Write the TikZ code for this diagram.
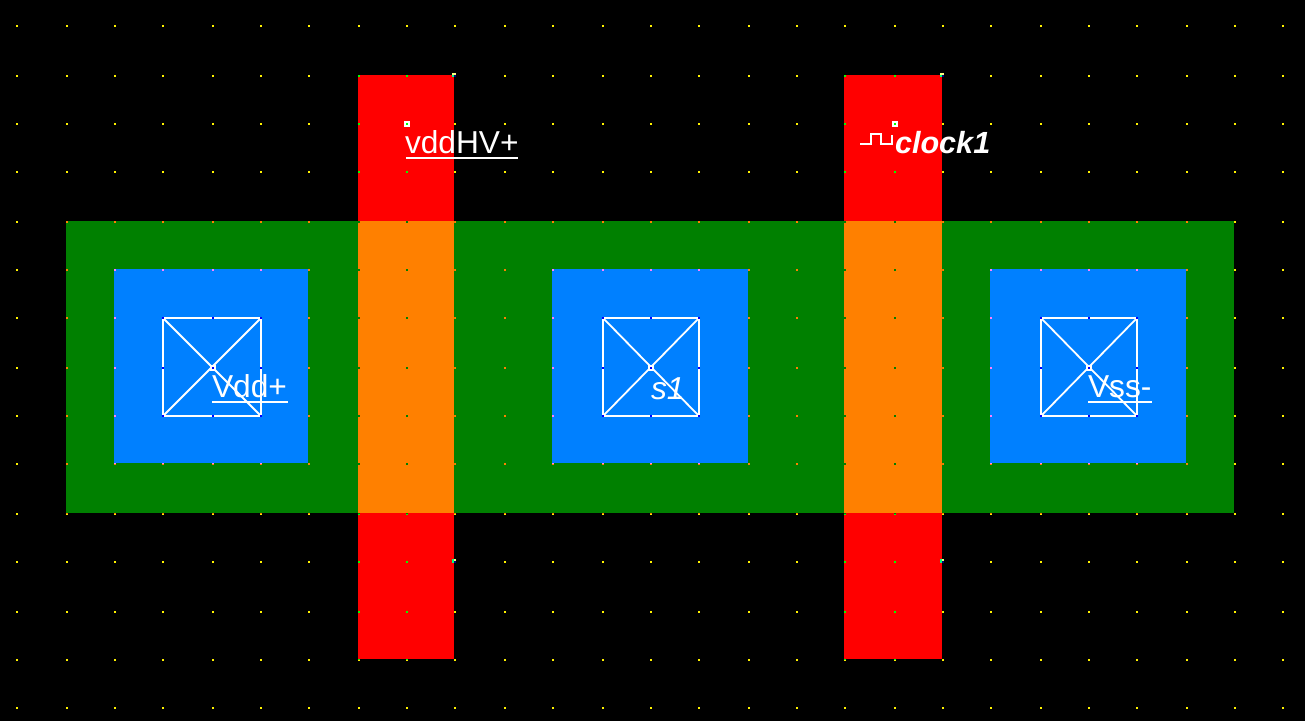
\documentclass[tikz,border=0pt]{standalone}
\usepackage{fontspec}
\setmainfont{Liberation Sans}
\definecolor{layred}{RGB}{255,0,0}
\definecolor{laygreen}{RGB}{0,128,0}
\definecolor{layorange}{RGB}{255,128,0}
\definecolor{layblue}{RGB}{0,128,255}
\definecolor{dotgreen}{RGB}{0,255,0}
\definecolor{dotpink}{RGB}{255,127,255}
\definecolor{dotdark}{RGB}{0,128,0}
\definecolor{dotcross}{RGB}{0,0,255}
\definecolor{markpale}{RGB}{255,255,128}
\definecolor{markteal}{RGB}{0,255,128}
\definecolor{marknavy}{RGB}{0,0,128}
\newcommand{\dotgrid}[1]{%
  \foreach \dx in {17,67,115,163,213,261,309,359,407,455,505,553,603,651,699,749,797,845,895,943,991,1041,1089,1137,1187,1235,1283}
    \foreach \dy in {26,76,124,172,222,270,318,368,416,464,514,562,612,660,708}
      \fill[#1] (\dx-1,\dy-1) rectangle (\dx+1,\dy+1);}
\newcommand{\contact}[3]{%
  % left x, center x, right x
  \draw[wire] (#1,318) rectangle (#3,416);
  \draw[thinwire] (#1,318) -- (#3,416);
  \draw[thinwire] (#1,416) -- (#3,318);
  \fill[white] (#2-3,365) rectangle (#2+3,371);
  \foreach \cx in {#1,#2,#3} \foreach \cy in {318,368,416}
    \fill[dotcross] (\cx-1,\cy-1) rectangle (\cx+1,\cy+1);}
\tikzset{
  x=1pt,y=-1pt,
  wire/.style={white,line width=2pt},
  thinwire/.style={white,line width=1.8pt},
  lab/.style={anchor=base west,inner sep=0pt,outer sep=0pt,text=white,font=\fontsize{31.7}{32}\selectfont},
  labit/.style={lab,font=\fontsize{31.7}{32}\selectfont\itshape},
  labbf/.style={lab,font=\fontsize{30.6}{31}\selectfont\bfseries\itshape},
}
\begin{document}
\begin{tikzpicture}
\useasboundingbox (0,0) rectangle (1305,721);
\fill[black] (0,0) rectangle (1305,721);
\dotgrid{yellow}
% poly
\fill[layred] (358,75) rectangle (454,659);
\fill[layred] (844,75) rectangle (942,659);
\begin{scope}
  \clip (358,75) rectangle (454,659);
  \dotgrid{dotgreen}
\end{scope}
\begin{scope}
  \clip (844,75) rectangle (942,659);
  \dotgrid{dotgreen}
\end{scope}
% active
\fill[laygreen] (66,221) rectangle (1234,513);
\fill[layorange] (358,221) rectangle (454,513);
\fill[layorange] (844,221) rectangle (942,513);
\begin{scope}
  \clip (66,221) rectangle (1234,513);
  \dotgrid{layorange}
\end{scope}
\begin{scope}
  \clip (358,221) rectangle (454,513);
  \dotgrid{dotdark}
\end{scope}
\begin{scope}
  \clip (844,221) rectangle (942,513);
  \dotgrid{dotdark}
\end{scope}
% metal
\foreach \bl/\br in {114/308,552/748,990/1186}{
  \fill[layblue] (\bl,269) rectangle (\br,463);
  \begin{scope}
    \clip (\bl,269) rectangle (\br,463);
    \dotgrid{dotpink}
  \end{scope}
}
% contacts
\contact{163}{213}{261}
\contact{603}{651}{699}
\contact{1041}{1089}{1137}
% corner marks
\foreach \mx in {452,940}{
  \fill[markpale] (\mx,73) rectangle (\mx+4,75);
  \fill[markteal] (\mx,75) rectangle (\mx+2,77);
  \fill[marknavy] (\mx+2,75) rectangle (\mx+4,77);
  \fill[markteal] (\mx,559) rectangle (\mx+2,563);
  \fill[markpale] (\mx+2,559) rectangle (\mx+4,561);
  \fill[marknavy] (\mx+2,561) rectangle (\mx+4,563);
}
% labels
\node[lab] (vddhv) at (405,153) {vddHV+};
\draw[wire] (406,158) -- (518,158);
\fill[white] (404,121) rectangle (410,127);
\fill[dotgreen] (406,123) rectangle (408,125);
\node[labbf] (clk) at (895,153) {clock1};
\draw[wire,line join=miter] (860,144) -- (871,144) -- (871,134) -- (881,134) -- (881,144) -- (892,144) -- (892,135);
\fill[white] (892,121) rectangle (898,127);
\fill[dotgreen] (894,123) rectangle (896,125);
\node[lab] (vdd) at (212,397) {Vdd+};
\draw[wire] (212,402) -- (288,402);
\node[labit] (s1) at (651,399) {s1};
\node[lab] (vss) at (1088,397) {Vss-};
\draw[wire] (1088,402) -- (1152,402);
\end{tikzpicture}
\end{document}
